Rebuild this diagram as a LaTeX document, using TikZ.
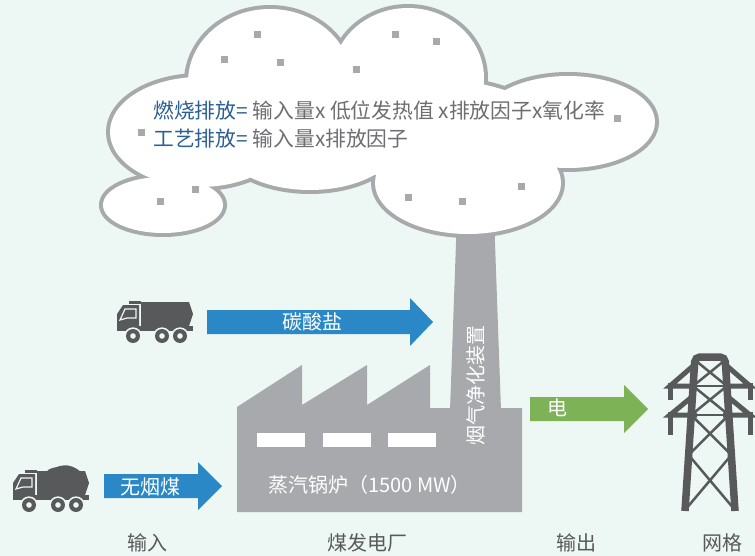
\documentclass[tikz,border=0pt]{standalone}
\usepackage{fontspec}
\newfontfamily\cjk{Noto Sans CJK SC}
\usepackage{tikz}
\usetikzlibrary{calc}

\definecolor{bgmint}{RGB}{237,247,243}
\definecolor{plantgray}{RGB}{167,169,172}
\definecolor{icongray}{RGB}{88,89,91}
\definecolor{formulagray}{RGB}{109,110,113}
\definecolor{termblue}{RGB}{42,95,150}
\definecolor{flowblue}{RGB}{41,136,197}
\definecolor{flowgreen}{RGB}{125,178,86}

\tikzstyle{cloudline}=[draw=plantgray, line width=8pt]
\tikzstyle{speck}=[fill=plantgray]
\tikzstyle{formula}=[anchor=west, inner sep=0pt, font=\cjk\fontsize{20.8}{24}\selectfont, text=formulagray]
\tikzstyle{caption}=[inner sep=0pt, font=\cjk\fontsize{20}{24}\selectfont, text=icongray]
\tikzstyle{flowtext}=[inner sep=0pt, font=\cjk\fontsize{20}{24}\selectfont, text=white]
\tikzstyle{lattice}=[draw=icongray, line width=2.5pt]
\tikzstyle{arm}=[draw=icongray, line width=5pt]
\tikzstyle{leg}=[draw=icongray, line width=7.5pt, rounded corners=5pt]

\tikzset{
  truck/.pic={
    % dump body and lip over the cab
    \fill[icongray] (31,7) -- (79,7) -- (83,19) -- (79,31) -- (31,31) -- cycle;
    \fill[icongray] (19,6) rectangle (31,8.5);
    % cab with window
    \fill[icongray] (7,35) -- (7,19) -- (13,10) -- (29,10) -- (29,35) -- cycle;
    \draw[bgmint, line width=1.2pt] (10,25) -- (15,14) -- (26,14) -- (26,23) -- (17,23) -- cycle;
    % chassis
    \fill[icongray] (7,31) rectangle (83,36);
    % wheels
    \foreach \wx in {23,52,70} {
      \fill[bgmint] (\wx,41) circle (8.7);
      \fill[icongray] (\wx,41) circle (7);
      \fill[bgmint] (\wx,41) circle (2.8);
    }
  }
}

\begin{document}
\begin{tikzpicture}[x=1pt, y=-1pt]

\fill[bgmint] (0,0) rectangle (755,556);
\useasboundingbox (0,0) rectangle (755,556);

% chimney, tucked under the cloud
\fill[plantgray] (457,215) -- (494,215) -- (501,410) -- (450,410) -- cycle;

% cloud = union of ellipses: outline first, white fill on top
\foreach \cx/\cy/\rx/\ry in {270/82/82/73, 408/78/76/70, 568/122/87/46, 468/183/93/51, 310/140/90/50, 200/132/90/55, 163/205/60/28, 390/125/160/50}
    \draw[cloudline] (\cx,\cy) ellipse [x radius=\rx, y radius=\ry];
\foreach \cx/\cy/\rx/\ry in {270/82/82/73, 408/78/76/70, 568/122/87/46, 468/183/93/51, 310/140/90/50, 200/132/90/55, 163/205/60/28, 390/125/160/50}
    \fill[white] (\cx,\cy) ellipse [x radius=\rx, y radius=\ry];

% specks
\foreach \sx/\sy in {257/35, 395/35, 436/42, 224/60, 280/63, 356/70, 617/119, 141/133, 195/190, 160/202, 408/198, 462/202, 521/187}
    \fill[speck] (\sx-3.5,\sy-3.5) rectangle (\sx+3.5,\sy+3.5);

\node[formula] (combustion) at (153,111) {\textcolor{termblue}{燃烧排放=} 输入量x 低位发热值 x排放因子x氧化率};
\node[formula] (process) at (153,139) {\textcolor{termblue}{工艺排放=} 输入量x排放因子};

% factory with saw-tooth roof
\fill[plantgray] (237,512) -- (237,407) -- (302,365) -- (302,405) -- (367,365) -- (367,405)
    -- (430,365) -- (430,408) -- (522,408) -- (522,512) -- cycle;
\foreach \wx in {257,323,388}
    \fill[white] (\wx,433) rectangle (\wx+48,447);
\node[flowtext, anchor=west] (boiler) at (268,485) {蒸汽锅炉（1500 MW）};
\node[flowtext, rotate=90] (scrubber) at (476,385) {烟气净化装置};

% block arrows
\foreach \xa/\xb/\xt/\yc/\col in {207/410/433/322/flowblue, 104/198/222/486/flowblue, 530/624/648/409/flowgreen}
    \fill[\col] (\xa,\yc-12) -- (\xb,\yc-12) -- (\xb,\yc-24) -- (\xt,\yc)
        -- (\xb,\yc+24) -- (\xb,\yc+12) -- (\xa,\yc+12) -- cycle;
\node[flowtext] (carbonate) at (312,322) {碳酸盐};
\node[flowtext] (coal) at (150,487) {无烟煤};
\node[flowtext] (power) at (557,408) {电};

% trucks
\pic at (110,295) {truck};
\pic at (6,464) {truck};
\fill[icongray] (46,472) .. controls (50,467) and (56,468) .. (60,466)
    .. controls (66,464) and (74,466) .. (81,472) -- cycle;

% pylon
\coordinate (lt) at (695,357);
\coordinate (lb) at (685,511);
\coordinate (rt) at (725,357);
\coordinate (rb) at (735,511);
\foreach \lv/\yy in {0/360, 1/386, 2/415, 3/455, 4/510} {
    \coordinate (pl\lv) at ($(lt)!{(\yy-357)/154}!(lb)$);
    \coordinate (pr\lv) at ($(rt)!{(\yy-357)/154}!(rb)$);
}
\foreach \a/\b in {0/1, 1/2, 2/3, 3/4}
    \draw[lattice] (pl\a) -- (pr\b) (pr\a) -- (pl\b);
\draw[lattice] (pl1) -- (pr1) (pl2) -- (pr2);
\foreach \s in {-1,1} {
    \draw[arm] (710+\s*17,366) -- (710+\s*40,386) -- (710+\s*14,386);
    \draw[arm] (710+\s*40,383) -- (710+\s*40,400);
    \draw[arm] (710+\s*17,396) -- (710+\s*40,415) -- (710+\s*13,415);
    \draw[arm] (710+\s*40,412) -- (710+\s*40,435);
}
\draw[leg] (lb) -- (lt) -- (rt) -- (rb);

% column captions
\node[caption] (input) at (147,543) {输入};
\node[caption] (plant) at (367,543) {煤发电厂};
\node[caption] (output) at (576,543) {输出};
\node[caption] (grid) at (722,543) {网格};

\end{tikzpicture}
\end{document}
